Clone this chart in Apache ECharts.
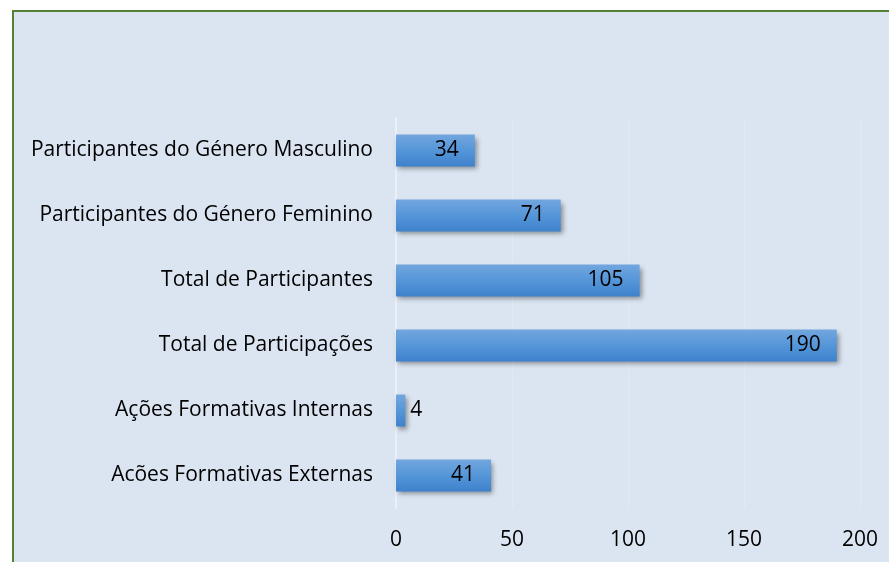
<!DOCTYPE html>
<html>
<head>
<meta charset="utf-8">
<style>
  html, body { margin: 0; padding: 0; background: #ffffff; }
  #chart { width: 889px; height: 562px; }
</style>
<script src="https://cdn.jsdelivr.net/npm/echarts@6/dist/echarts.min.js"></script>
</head>
<body>
<div id="chart"></div>
<script>
// Training indicators, listed top to bottom
const categories = [
  'Participantes do Género Masculino',
  'Participantes do Género Feminino',
  'Total de Participantes',
  'Total de Participações',
  'Ações Formativas Internas',
  'Acões Formativas Externas'
];
const values = [34, 71, 105, 190, 4, 41];
const xTicks = [0, 50, 100, 150, 200];

const FONT = 'Open Sans';
const FONT_SIZE = 21;

const chart = echarts.init(document.getElementById('chart'), null, { renderer: 'canvas' });

const barData = values.map(v => ({
  value: v,
  label: v < 10
    ? { position: 'right', distance: 5 }
    : { position: 'insideRight', distance: 16 }
}));

chart.setOption({
  animation: false,
  backgroundColor: '#ffffff',
  graphic: [{
    type: 'rect',
    z: -10,
    silent: true,
    shape: { x: 13, y: 11, width: 900, height: 600 },
    style: { fill: '#dbe5f1', stroke: '#548235', lineWidth: 2 }
  }],
  grid: { left: 396, right: 29, top: 118, bottom: 54, containLabel: false },
  xAxis: {
    type: 'value',
    min: xTicks[0],
    max: xTicks[xTicks.length - 1],
    interval: 50,
    axisLine: { show: false },
    axisTick: { show: false },
    splitLine: { show: true, lineStyle: { color: '#e2e9f3', width: 1 } },
    axisLabel: {
      margin: 22,
      color: '#000000',
      fontFamily: FONT,
      fontSize: FONT_SIZE
    }
  },
  yAxis: {
    type: 'category',
    inverse: true,
    data: categories,
    axisLine: { show: true, lineStyle: { color: '#eaf0f7', width: 2 } },
    axisTick: { show: false },
    axisLabel: {
      margin: 23,
      padding: [4, 0, 0, 0],
      color: '#000000',
      fontFamily: FONT,
      fontSize: FONT_SIZE
    }
  },
  series: [{
    type: 'bar',
    data: barData,
    barCategoryGap: '51%',
    itemStyle: {
      color: new echarts.graphic.LinearGradient(0, 0, 0, 1, [
        { offset: 0, color: '#72a6de' },
        { offset: 0.5, color: '#5596d9' },
        { offset: 1, color: '#3e82cc' }
      ]),
      shadowColor: 'rgba(0,0,0,0.4)',
      shadowBlur: 5,
      shadowOffsetX: 2,
      shadowOffsetY: 3
    },
    label: {
      show: true,
      padding: [4, 0, 0, 0],
      color: '#000000',
      fontFamily: FONT,
      fontSize: FONT_SIZE
    }
  }]
});
</script>
</body>
</html>
